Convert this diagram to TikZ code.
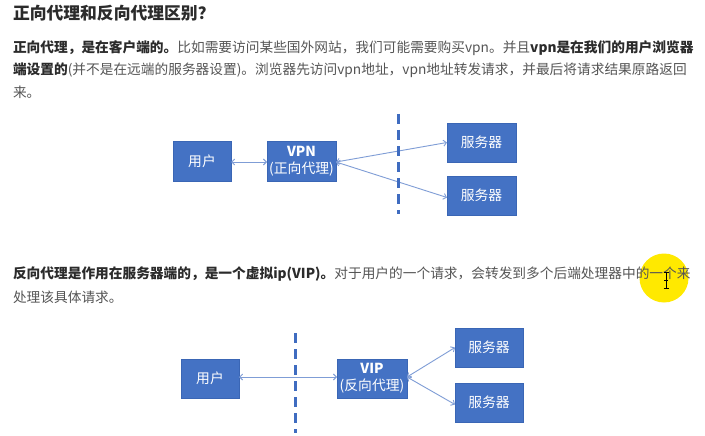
\documentclass[tikz,border=0pt]{standalone}
\usepackage{fontspec}
\setmainfont{Noto Sans CJK SC}
\usetikzlibrary{arrows.meta}
\definecolor{boxblue}{HTML}{4472C4}
\definecolor{boxedge}{HTML}{3A66B5}
\definecolor{linkblue}{HTML}{7F9DD6}
\definecolor{dashblue}{HTML}{3F6CC0}
\definecolor{txtbold}{HTML}{2B2B2B}
\definecolor{txtreg}{HTML}{555555}
\definecolor{hiyellow}{HTML}{FFE900}
\tikzset{
  box/.style={draw=boxedge, line width=0.6pt, fill=boxblue, text=white, inner sep=0pt, outer sep=0pt, align=center, font=\fontsize{13.8}{17}\selectfont},
  link/.style={draw=linkblue, line width=0.9pt, {Straight Barb[length=3pt,width=6pt]}-{Straight Barb[length=3pt,width=6pt]}},
  divider/.style={draw=dashblue, line width=3pt, dash pattern=on 10pt off 6pt},
  para/.style={anchor=west, inner sep=0pt, outer sep=0pt, text=txtreg, font=\fontsize{13.7}{16}\selectfont},
}
\newcommand{\bt}[1]{\textcolor{txtbold}{\textbf{#1}}}
\begin{document}
\begin{tikzpicture}[x=1pt,y=-1pt]
\useasboundingbox[fill=white] (0,0) rectangle (705,436);
% cursor highlight
\fill[hiyellow] (664,278) circle (24.5);
% texts
\node[para, text=txtbold, font=\fontsize{16.8}{19}\selectfont\bfseries] (title) at (13,13) {正向代理和反向代理区别？};
\node[para] (p1a) at (13,48) {\bt{正向代理，是在客户端的。}比如需要访问某些国外网站，我们可能需要购买vpn。并且\bt{vpn是在我们的用户浏览器}};
\node[para] (p1b) at (13,70) {\bt{端设置的}(并不是在远端的服务器设置)。浏览器先访问vpn地址，vpn地址转发请求，并最后将请求结果原路返回};
\node[para] (p1c) at (13,92) {来。};
\node[para] (p2a) at (13,274) {\bt{反向代理是作用在服务器端的，是一个虚拟ip(VIP)。}对于用户的一个请求，会转发到多个后端处理器中的一个来};
\node[para] (p2b) at (13,297) {处理该具体请求。};
% I-beam cursor
\draw[black, line width=0.7pt] (666,272) -- (666,288) (663.5,272) -- (668.5,272) (663.5,288) -- (668.5,288) (664,280) -- (668,280);
% top diagram
\node[box, minimum width=58pt, minimum height=40pt] (u1) at (202,161) {用户};
\node[box, minimum width=69pt, minimum height=40pt] (vpn) at (301.5,161) {\textbf{VPN}\\(正向代理)};
\node[box, minimum width=69pt, minimum height=39pt] (s1) at (481.5,142.5) {服务器};
\node[box, minimum width=69pt, minimum height=39pt] (s2) at (481.5,195.5) {服务器};
\draw[link] ([yshift=-1pt]u1.east) -- ([yshift=-1pt]vpn.west);
\draw[link] ([yshift=-1pt]vpn.east) -- (s1.west);
\draw[link] ([yshift=-1pt]vpn.east) -- ([yshift=-2pt]s2.west);
\coordinate (d1a) at (398,114);
\coordinate (d1b) at (398,214);
\draw[divider] (d1a) -- (d1b);
% bottom diagram
\node[box, minimum width=58pt, minimum height=39pt] (u2) at (210,378.5) {用户};
\node[box, minimum width=70pt, minimum height=39pt] (vip) at (372,378.5) {\textbf{VIP}\\(反向代理)};
\node[box, minimum width=68pt, minimum height=39pt] (s3) at (489,347.5) {服务器};
\node[box, minimum width=68pt, minimum height=39pt] (s4) at (489,402.5) {服务器};
\draw[link] ([yshift=1.5pt]u2.east) -- ([yshift=1.5pt]vip.west);
\draw[link] ([yshift=1.5pt]vip.east) -- (s3.west);
\draw[link] ([yshift=1.5pt]vip.east) -- ([yshift=-2pt]s4.west);
\coordinate (d2a) at (295,333);
\coordinate (d2b) at (295,433);
\draw[divider] (d2a) -- (d2b);
\end{tikzpicture}
\end{document}
